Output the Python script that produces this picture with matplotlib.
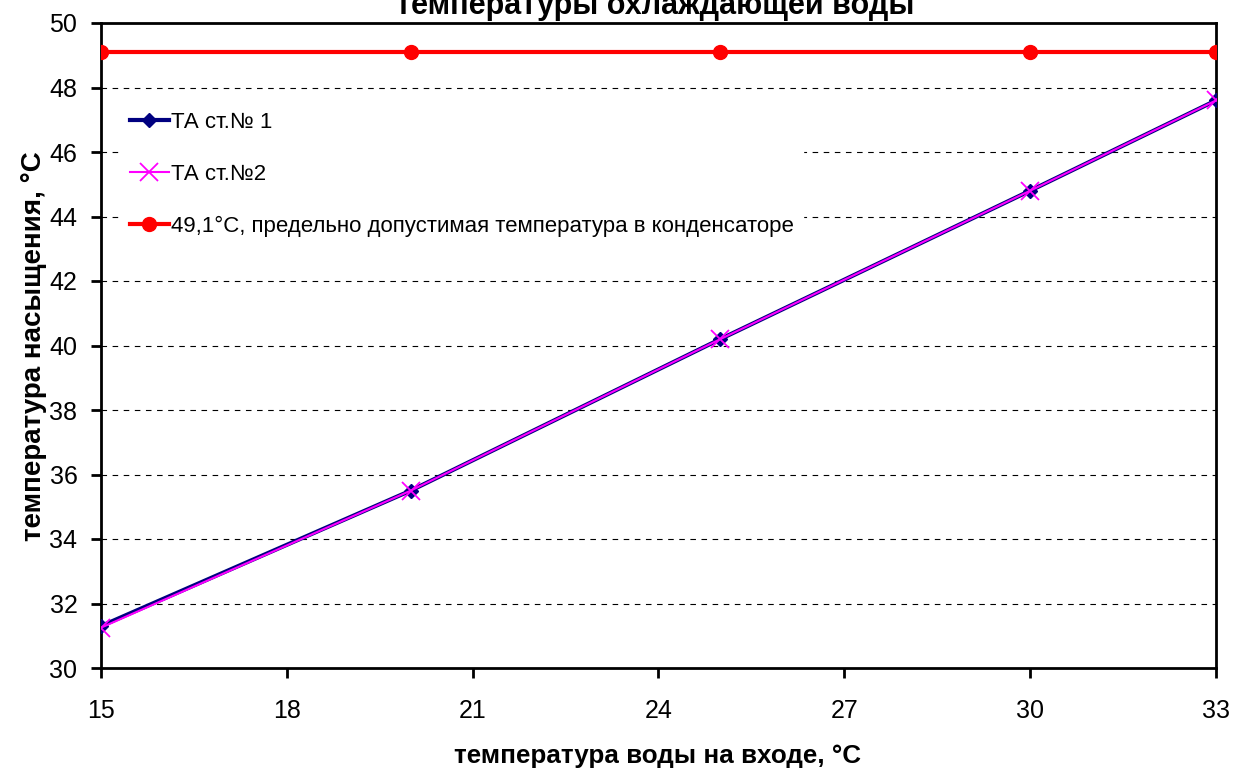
import matplotlib
matplotlib.use("Agg")
import matplotlib.pyplot as plt

plt.rcParams['font.family'] = ['Liberation Sans', 'DejaVu Sans']

x_vals = [15, 20, 25, 30, 33]
ta1 = [31.3, 35.5, 40.2, 44.8, 47.6]
ta2 = [31.25, 35.5, 40.2, 44.8, 47.6]
limit = [49.1, 49.1, 49.1, 49.1, 49.1]
x_ticks = [15, 18, 21, 24, 27, 30, 33]
y_ticks = [30, 32, 34, 36, 38, 40, 42, 44, 46, 48, 50]

labels = ['ТА ст.№ 1', 'ТА ст.№2', '49,1°С, предельно допустимая температура в конденсаторе']
title = 'температуры охлаждающей воды'
xlabel = 'температура воды на входе, °С'
ylabel = 'температура насыщения, °С'

W, H = 1234, 771
fig = plt.figure(figsize=(W / 100, H / 100), dpi=100)
ax = fig.add_axes([101 / W, 1 - 668 / H, 1115 / W, 645 / H])

ax.plot(x_vals, ta1, color='#000080', lw=3, marker='D', ms=7, label=labels[0], zorder=3)
ax.plot(x_vals, ta2, color='#FF00FF', lw=1.5, marker='x', ms=13, mew=1.3, label=labels[1], zorder=4)
ax.plot(x_vals, limit, color='#FF0000', lw=3, marker='o', ms=10, label=labels[2], zorder=3)

ax.set_xlim(15, 33)
ax.set_ylim(30, 50)
ax.set_xticks(x_ticks)
ax.set_yticks(y_ticks)
for yv in y_ticks[1:-1]:
    ax.axhline(yv, color='black', lw=0.8, ls=(0, (5, 5)), zorder=1)

for s in ax.spines.values():
    s.set_linewidth(2)
    s.set_color('black')
ax.tick_params(axis='both', labelsize=18, width=2, length=7, direction='out')
ax.tick_params(axis='x', pad=15)
ax.tick_params(axis='y', pad=10)

fig.text(658 / W, 1 - 756 / H, xlabel, ha='center', va='center', fontsize=18.7, fontweight='bold')
fig.text(34 / W, 1 - 346 / H, ylabel, ha='center', va='center', rotation=90, fontsize=20, fontweight='bold')
fig.text(655 / W, 1 - 14 / H, title, ha='center', va='baseline', fontsize=22, fontweight='bold')

leg = ax.legend(loc='upper left', bbox_to_anchor=(0.018, 0.876), fontsize=16, frameon=True,
                fancybox=False, edgecolor='white', framealpha=1, labelspacing=1.4,
                handlelength=1.75, handletextpad=0.1, borderpad=0.4, borderaxespad=0)
leg.set_zorder(5)

fig.savefig('out.png', dpi=100)
